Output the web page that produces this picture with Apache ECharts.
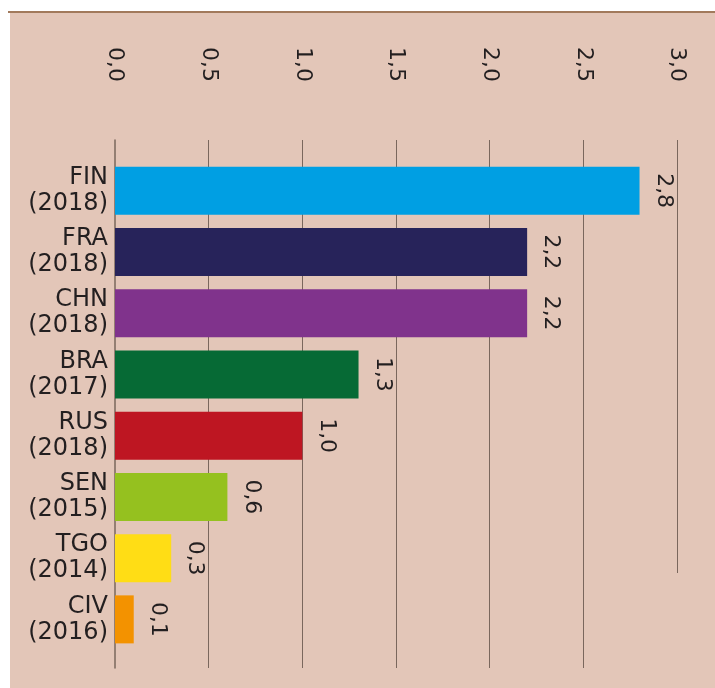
<!DOCTYPE html>
<html>
<head>
    <meta charset="utf-8">
    <title>ECharts</title>
    <script src="https://cdn.jsdelivr.net/npm/echarts@6/dist/echarts.min.js"></script>
    <style>
        body { margin: 0; background: #fff; }
    </style>
</head>
<body>
    <div id="main" style="width: 715px;height:688px;"></div>
    <script type="text/javascript">
        var myChart = echarts.init(document.getElementById('main'));

        // data
        var countries = ['FIN', 'FRA', 'CHN', 'BRA', 'RUS', 'SEN', 'TGO', 'CIV'];
        var years = ['2018', '2018', '2018', '2017', '2018', '2015', '2014', '2016'];
        var values = [2.8, 2.2, 2.2, 1.3, 1.0, 0.6, 0.3, 0.1];
        var barColors = ['#009fe3', '#27235a', '#80338c', '#066a35', '#be1622', '#95c11f', '#ffdd15', '#f39200'];

        var categories = countries.map(function(c, i) {
            return c + '\n(' + years[i] + ')';
        });

        var txtColor = '#231f20';
        var lineColor = '#7a675d';
        var font = 'DejaVu Sans';

        function fmt(v) {
            return Number(v).toFixed(1).replace('.', ',');
        }

        var option = {
            animation: false,
            graphic: [{
                type: 'rect',
                shape: { x: 10, y: 12, width: 705, height: 676 },
                style: { fill: '#e3c6b8' },
                z: -10
            }, {
                type: 'line',
                shape: { x1: 8, y1: 12, x2: 715, y2: 12 },
                style: { stroke: '#a27a5c', lineWidth: 2 },
                z: -9
            }],
            grid: [
                // gridlines + tick labels
                { left: 115, right: 38, top: 140, bottom: 20 },
                // short line at 3,0
                { left: 115, right: 38, top: 140, bottom: 115 },
                // bars
                { left: 115, right: 38, top: 160, bottom: 38 }
            ],
            xAxis: [{
                gridIndex: 0,
                type: 'value',
                position: 'top',
                min: 0,
                max: 3,
                interval: 0.5,
                axisLine: { show: false },
                axisTick: { show: false },
                splitLine: { show: true, showMinLine: false, showMaxLine: false, lineStyle: { color: lineColor, width: 1 } },
                axisLabel: {
                    rotate: -90,
                    margin: 58,
                    color: txtColor,
                    fontSize: 22,
                    fontFamily: font,
                    formatter: fmt
                }
            }, {
                gridIndex: 1,
                type: 'value',
                min: 0,
                max: 3,
                interval: 3,
                axisLine: { show: false },
                axisTick: { show: false },
                axisLabel: { show: false },
                splitLine: { show: true, showMinLine: false, showMaxLine: true, lineStyle: { color: lineColor, width: 1 } }
            }, {
                gridIndex: 2,
                type: 'value',
                min: 0,
                max: 3,
                show: false
            }],
            yAxis: [{
                gridIndex: 0,
                type: 'value',
                axisLine: { show: true, lineStyle: { color: lineColor, width: 1.5 } },
                axisTick: { show: false },
                axisLabel: { show: false },
                splitLine: { show: false }
            }, {
                gridIndex: 1,
                type: 'value',
                show: false
            }, {
                gridIndex: 2,
                type: 'category',
                inverse: true,
                data: categories,
                axisLine: { show: false },
                axisTick: { show: false },
                axisLabel: {
                    margin: 7,
                    color: txtColor,
                    fontSize: 24,
                    lineHeight: 26,
                    fontFamily: font,
                    align: 'right'
                }
            }],
            series: [{
                type: 'bar',
                xAxisIndex: 2,
                yAxisIndex: 2,
                barWidth: 48,
                data: values.map(function(v, i) {
                    return { value: v, itemStyle: { color: barColors[i] } };
                }),
                label: {
                    show: true,
                    position: 'right',
                    distance: 24,
                    rotate: -90,
                    align: 'center',
                    verticalAlign: 'middle',
                    color: txtColor,
                    fontSize: 22,
                    fontFamily: font,
                    formatter: function(p) {
                        return fmt(p.value);
                    }
                }
            }]
        };

        myChart.setOption(option);
    </script>
</body>
</html>
